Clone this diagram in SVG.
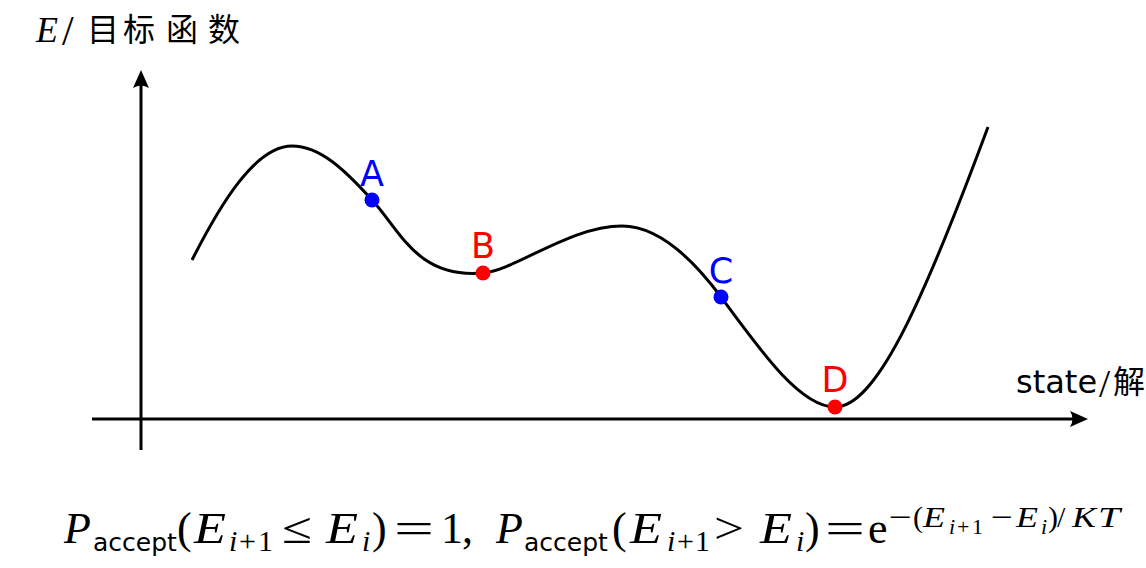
<svg xmlns="http://www.w3.org/2000/svg" width="1146" height="568" viewBox="0 0 1146 568">
<style>
.ax{stroke:#000;stroke-width:3;fill:none}
.curve{stroke:#000;stroke-width:3;fill:none;stroke-linejoin:round}
.lbl{font-family:"DejaVu Sans",sans-serif;font-size:35px;text-anchor:middle}
.blue{fill:#0000ff}
.red{fill:#ff0000}
.m{font-family:"Liberation Serif",serif;font-size:44px;fill:#000}
.mi{font-family:"Liberation Serif",serif;font-size:44px;font-style:italic;fill:#000}
.s{font-size:30px}
.ss{font-size:22px}
.sf{font-family:"DejaVu Sans",sans-serif;font-size:25px;fill:#000}
.cjk{font-family:"Noto Sans CJK SC",sans-serif;font-size:32px;fill:#000}
</style>
<defs>
<marker id="arr" viewBox="-12 -10 22 20" refX="0" refY="0" markerWidth="22" markerHeight="20" markerUnits="userSpaceOnUse" orient="auto">
<path d="M8,0 L-10,-8 Q-5,0 -10,8 Z" fill="#000"/>
</marker>
</defs>
<g id="axes">
<line class="ax" x1="141" y1="450" x2="141" y2="78" marker-end="url(#arr)"/>
<line class="ax" x1="92" y1="419" x2="1080" y2="419" marker-end="url(#arr)"/>
</g>
<g id="connectors">
<path class="curve" d="M192,260 C220,205 255,146 292,146 C320,146 345,170 372,200 C400,230 417,279 483,273 C516,270 570,226 622,226 C660,226 695,262 721,297 C760,350 800,407 835,407 C875,407 920,310 988,127"/>
</g>
<g id="node-A">
<circle cx="372" cy="200" r="7.5" class="blue"/>
<text x="372" y="186" class="lbl blue">A</text>
</g>
<g id="node-B">
<circle cx="483" cy="273" r="7.5" class="red"/>
<text x="483" y="258" class="lbl red">B</text>
</g>
<g id="node-C">
<circle cx="721" cy="297" r="7.5" class="blue"/>
<text x="721" y="283" class="lbl blue">C</text>
</g>
<g id="node-D">
<circle cx="835" cy="407" r="7.5" class="red"/>
<text x="835" y="392" class="lbl red">D</text>
</g>
<g id="ylabel">
<text x="36" y="42" class="mi" style="font-size:36px">E</text>
<text x="62" y="45" class="m" style="font-size:42px">/</text>
<text class="cjk" y="41"><tspan x="87">目</tspan><tspan x="123">标</tspan><tspan x="166">函</tspan><tspan x="208">数</tspan></text>
</g>
<g id="xlabel">
<text x="1016" y="393" style="font-family:'DejaVu Sans',sans-serif;font-size:32px">state</text>
<text x="1099" y="397" class="m" style="font-size:40px">/</text>
<text x="1113" y="393" class="cjk">解</text>
</g>
<g id="formula">
<text x="64" y="543" class="mi">P</text>
<text x="93" y="551" class="sf">accept</text>
<text x="177" y="543" class="m">(</text>
<text x="194" y="543" class="mi" textLength="32" lengthAdjust="spacingAndGlyphs">E</text>
<text y="551" class="m s"><tspan x="229" font-style="italic">i</tspan><tspan x="239">+</tspan><tspan x="258">1</tspan></text>
<text x="282" y="543" class="m" textLength="30" lengthAdjust="spacingAndGlyphs">≤</text>
<text x="326" y="543" class="mi" textLength="32" lengthAdjust="spacingAndGlyphs">E</text>
<text x="362" y="551" class="mi s">i</text>
<text x="372" y="543" class="m">)</text>
<text x="394" y="543" class="m" textLength="40" lengthAdjust="spacingAndGlyphs">=</text>
<text x="441" y="543" class="m">1</text>
<text x="462" y="543" class="m">,</text>
<text x="496" y="543" class="mi">P</text>
<text x="524" y="551" class="sf">accept</text>
<text x="612" y="543" class="m">(</text>
<text x="630" y="543" class="mi" textLength="32" lengthAdjust="spacingAndGlyphs">E</text>
<text y="551" class="m s"><tspan x="667" font-style="italic">i</tspan><tspan x="677">+</tspan><tspan x="695">1</tspan></text>
<text x="714" y="543" class="m" textLength="30" lengthAdjust="spacingAndGlyphs">&gt;</text>
<text x="760" y="543" class="mi" textLength="32" lengthAdjust="spacingAndGlyphs">E</text>
<text x="796" y="551" class="mi s">i</text>
<text x="805" y="543" class="m">)</text>
<text x="825" y="543" class="m" textLength="40" lengthAdjust="spacingAndGlyphs">=</text>
<text x="868" y="543" class="m">e</text>
<text x="889" y="527" class="m s" textLength="23" lengthAdjust="spacingAndGlyphs">−</text>
<text x="913" y="527" class="m s">(</text>
<text x="923" y="527" class="mi s" textLength="22" lengthAdjust="spacingAndGlyphs">E</text>
<text y="534" class="m ss"><tspan x="949" font-style="italic">i</tspan><tspan x="957">+</tspan><tspan x="972">1</tspan></text>
<text x="991" y="527" class="m s" textLength="22" lengthAdjust="spacingAndGlyphs">−</text>
<text x="1016" y="527" class="mi s" textLength="22" lengthAdjust="spacingAndGlyphs">E</text>
<text x="1041" y="534" class="mi ss">i</text>
<text x="1048" y="527" class="m s">)</text>
<text x="1057" y="527" class="m s">/</text>
<text x="1072" y="527" class="mi s" textLength="24" lengthAdjust="spacingAndGlyphs">K</text>
<text x="1098" y="527" class="mi s" textLength="22" lengthAdjust="spacingAndGlyphs">T</text>
</g>
</svg>
